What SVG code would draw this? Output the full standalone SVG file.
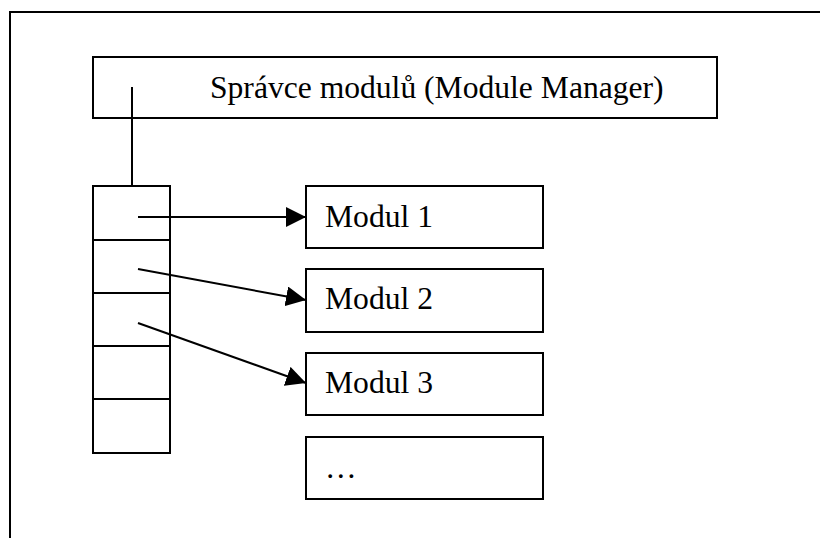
<svg xmlns="http://www.w3.org/2000/svg" width="820" height="538" viewBox="0 0 820 538">
  <style>
    .box { fill: #ffffff; stroke: #000000; stroke-width: 2; }
    .line { fill: none; stroke: #000000; stroke-width: 2; }
    .label { font-family: "Liberation Serif", "Times New Roman", serif; font-size: 31.6px; fill: #000000; }
  </style>
  <defs>
    <marker id="arrow" markerUnits="userSpaceOnUse" markerWidth="20" markerHeight="20" refX="20" refY="10" orient="auto">
      <path d="M0,0 L20,10 L0,20 Z" fill="#000000"/>
    </marker>
  </defs>
  <rect width="820" height="538" fill="#ffffff"/>

  <!-- page frame -->
  <path class="line" d="M10,538 L10,12 L820,12"/>

  <g id="manager">
    <rect class="box" x="93" y="57" width="624" height="61"/>
    <text class="label" x="210" y="98">Správce modulů (Module Manager)</text>
  </g>

  <g id="table">
    <rect class="box" x="93" y="186" width="77" height="267"/>
    <path class="line" d="M93,240 H170 M93,293 H170 M93,346 H170 M93,399 H170"/>
  </g>

  <g id="modul1">
    <rect class="box" x="306" y="186" width="237" height="62"/>
    <text class="label" x="325" y="227">Modul 1</text>
  </g>
  <g id="modul2">
    <rect class="box" x="306" y="269" width="237" height="63"/>
    <text class="label" x="325" y="309">Modul 2</text>
  </g>
  <g id="modul3">
    <rect class="box" x="306" y="353" width="237" height="62"/>
    <text class="label" x="325" y="393">Modul 3</text>
  </g>
  <g id="more">
    <rect class="box" x="306" y="437" width="237" height="62"/>
    <text class="label" x="325" y="478">…</text>
  </g>

  <g id="connectors">
    <path class="line" d="M132,87 V186"/>
    <path class="line" d="M138,217 L306,217" marker-end="url(#arrow)"/>
    <path class="line" d="M138,269 L306,300" marker-end="url(#arrow)"/>
    <path class="line" d="M138,323 L306,383" marker-end="url(#arrow)"/>
  </g>
</svg>
